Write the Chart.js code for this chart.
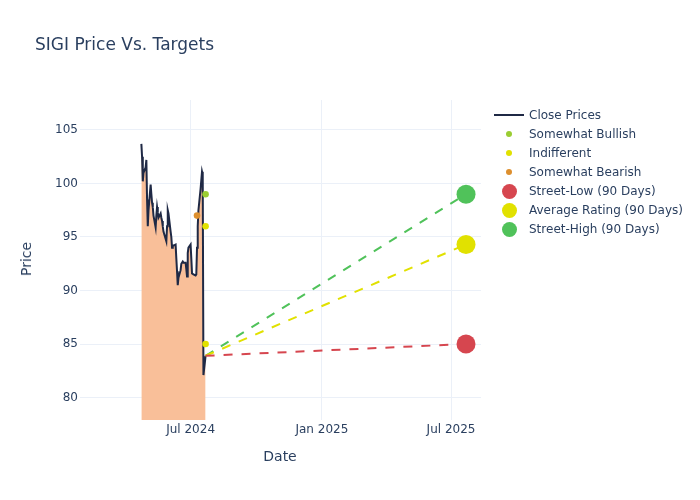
<!DOCTYPE html>
<html>
<head>
<meta charset="utf-8">
<script src="https://cdn.jsdelivr.net/npm/chart.js@4.4.1/dist/chart.umd.min.js"></script>
<style>
  html, body { margin: 0; padding: 0; background: #fff; }
  #wrap { position: relative; width: 700px; height: 500px; font-family: 'DejaVu Sans', sans-serif; color: #2a3f5f; }
  #chart { position: absolute; left: 0; top: 0; }
  .title { position: absolute; left: 35px; top: 36px; font-size: 17px; line-height: 17px; white-space: nowrap; }
  .ytitle { position: absolute; left: 26px; top: 259px; font-size: 14px; line-height: 14px; transform: translate(-50%, -50%) rotate(-90deg); white-space: nowrap; }
  .xtitle { position: absolute; left: 280px; top: 456px; font-size: 14px; line-height: 14px; transform: translate(-50%, -50%); white-space: nowrap; }
  #legend { position: absolute; left: 490px; top: 0; font-size: 12px; }
  .row { position: absolute; left: 0; height: 19px; line-height: 19px; white-space: nowrap; }
  .sym { position: absolute; }
  .lbl { position: absolute; left: 39px; top: 0; }
</style>
</head>
<body>
<div id="wrap">
  <canvas id="chart" width="700" height="500"></canvas>
  <div class="title">SIGI Price Vs. Targets</div>
  <div class="ytitle">Price</div>
  <div class="xtitle">Date</div>
  <div id="legend"></div>
</div>
<script>
// ── data ─────────────────────────────────────
const closeDates = [
  '2024-04-23','2024-04-24','2024-04-25','2024-04-26','2024-04-29','2024-04-30',
  '2024-05-01','2024-05-02','2024-05-03','2024-05-06','2024-05-07','2024-05-08','2024-05-09','2024-05-10',
  '2024-05-13','2024-05-14','2024-05-15','2024-05-16','2024-05-17',
  '2024-05-20','2024-05-21','2024-05-22','2024-05-23','2024-05-24',
  '2024-05-28','2024-05-29','2024-05-30','2024-05-31',
  '2024-06-03','2024-06-04','2024-06-05','2024-06-06','2024-06-07',
  '2024-06-10','2024-06-11','2024-06-12','2024-06-13','2024-06-14',
  '2024-06-17','2024-06-18','2024-06-20','2024-06-21',
  '2024-06-24','2024-06-25','2024-06-26','2024-06-27','2024-06-28',
  '2024-07-01','2024-07-02','2024-07-03','2024-07-05',
  '2024-07-08','2024-07-09','2024-07-10','2024-07-11','2024-07-12',
  '2024-07-15','2024-07-16','2024-07-17','2024-07-18','2024-07-19',
  '2024-07-22'
];
const closePrices = [
  103.7, 102.5, 100.2, 101.0, 101.5, 102.2,
  98.5, 96.0, 97.5, 99.9, 99.0, 98.2, 97.8, 97.0,
  95.9, 97.0, 97.8, 97.3, 96.8,
  97.2, 96.8, 96.5, 96.0, 95.5,
  94.6, 96.0, 97.5, 97.2,
  95.5, 95.0, 94.0, 94.2, 94.2,
  94.3, 93.0, 91.8, 90.5, 91.2,
  91.9, 92.5, 92.7, 92.6,
  92.6, 92.0, 91.3, 93.5, 94.0,
  94.3, 93.0, 91.6, 91.5,
  91.4, 91.5, 94.0, 96.0, 97.5,
  99.5, 100.3, 101.1, 100.8, 82.1,
  83.9
];

const bullishDates = ['2024-07-22'];
const bullishValues = [99.0];
const indifferentDates = ['2024-07-22', '2024-07-22'];
const indifferentValues = [96.0, 85.0];
const bearishDates = ['2024-07-10'];
const bearishValues = [97.0];

const targetDate = '2025-07-22';
const streetLow = 85.0;
const averageRating = 94.3;
const streetHigh = 99.0;

const xTickDates = ['2024-07-01', '2025-01-01', '2025-07-01'];
const xTickLabels = ['Jul 2024', 'Jan 2025', 'Jul 2025'];
const yTicks = [80, 85, 90, 95, 100, 105];
const xRange = ['2024-01-28', '2025-08-12'];
const yRange = [77.9, 107.8];

// ── helpers ──────────────────────────────────
const t = d => Date.parse(d);
const pts = (dates, vals) => dates.map((d, i) => ({ x: t(d), y: vals[i] }));

const C = {
    text: '#2a3f5f',
    grid: '#ebf0f8',
    close: '#1f2945',
    fill: '#f9bf99',
    bullish: '#9acd32',
    indiff: '#e1e100',
    bearish: '#dd8f2e',
    low: '#d6464f',
    avg: '#e1e100',
    high: '#50c25a',
};

const lastX = t(closeDates[closeDates.length - 1]);
const lastY = closePrices[closePrices.length - 1];

function targetLine(val, color, order) {
    return {
        type: 'line',
        data: [{ x: lastX, y: lastY }, { x: t(targetDate), y: val }],
        borderColor: color,
        borderWidth: 2,
        borderDash: [9, 9],
        pointRadius: 0,
        fill: false,
        order,
    };
}
function targetDot(val, color, order) {
    return {
        type: 'scatter',
        data: [{ x: t(targetDate), y: val }],
        backgroundColor: color,
        borderWidth: 0,
        pointRadius: 9.5,
        order,
    };
}
function ratingDots(dates, vals, color, order) {
    return {
        type: 'scatter',
        data: pts(dates, vals),
        backgroundColor: color,
        borderWidth: 0,
        pointRadius: 3.3,
        order,
    };
}

Chart.defaults.font.family = "'DejaVu Sans', sans-serif";
Chart.defaults.color = C.text;

new Chart(document.getElementById('chart'), {
    type: 'line',
    data: {
        datasets: [
            {
                label: 'Close Prices',
                data: pts(closeDates, closePrices),
                borderColor: C.close,
                borderWidth: 2,
                backgroundColor: C.fill,
                fill: 'start',
                pointRadius: 0,
                tension: 0,
                order: 10,
            },
            ratingDots(bullishDates, bullishValues, C.bullish, 5),
            ratingDots(indifferentDates, indifferentValues, C.indiff, 5),
            ratingDots(bearishDates, bearishValues, C.bearish, 5),
            targetLine(streetLow, C.low, 4),
            targetLine(averageRating, C.avg, 4),
            targetLine(streetHigh, C.high, 4),
            targetDot(streetLow, C.low, 1),
            targetDot(averageRating, C.avg, 1),
            targetDot(streetHigh, C.high, 1),
        ]
    },
    options: {
        responsive: false,
        animation: false,
        layout: { padding: { left: 0, right: 219, top: 100, bottom: 0 } },
        plugins: { legend: { display: false }, tooltip: { enabled: false } },
        scales: {
            x: {
                type: 'linear',
                min: t(xRange[0]),
                max: t(xRange[1]),
                afterBuildTicks: s => { s.ticks = xTickDates.map(d => ({ value: t(d) })); },
                afterFit: s => { s.height = 80; },
                ticks: {
                    autoSkip: false,
                    maxRotation: 0,
                    padding: 3,
                    font: { size: 12 },
                    color: C.text,
                    callback: v => xTickLabels[xTickDates.map(t).indexOf(v)],
                },
                grid: { color: C.grid, drawTicks: false },
                border: { display: false },
            },
            y: {
                min: yRange[0],
                max: yRange[1],
                afterBuildTicks: s => { s.ticks = yTicks.map(v => ({ value: v })); },
                afterFit: s => { s.width = 80; },
                ticks: { padding: 2, font: { size: 12 }, color: C.text },
                grid: { color: C.grid, drawTicks: false },
                border: { display: false },
            }
        }
    }
});

// ── legend ───────────────────────────────────
const legendItems = [
    { label: 'Close Prices', kind: 'line', color: C.close },
    { label: 'Somewhat Bullish', kind: 'dot', r: 3, color: C.bullish },
    { label: 'Indifferent', kind: 'dot', r: 3, color: C.indiff },
    { label: 'Somewhat Bearish', kind: 'dot', r: 3, color: C.bearish },
    { label: 'Street-Low (90 Days)', kind: 'dot', r: 7.5, color: C.low },
    { label: 'Average Rating (90 Days)', kind: 'dot', r: 7.5, color: C.avg },
    { label: 'Street-High (90 Days)', kind: 'dot', r: 7.5, color: C.high },
];
const legend = document.getElementById('legend');
legendItems.forEach((it, i) => {
    const cy = 115 + i * 19;
    const row = document.createElement('div');
    row.className = 'row';
    row.style.top = (cy - 9) + 'px';
    const sym = document.createElement('div');
    sym.className = 'sym';
    if (it.kind === 'line') {
        sym.style.cssText = `left:4px;top:8px;width:30px;height:2px;background:${it.color}`;
    } else {
        const d = it.r * 2;
        sym.style.cssText = `left:${19 - it.r}px;top:${9 - it.r}px;width:${d}px;height:${d}px;border-radius:50%;background:${it.color}`;
    }
    const lbl = document.createElement('span');
    lbl.className = 'lbl';
    lbl.textContent = it.label;
    row.appendChild(sym);
    row.appendChild(lbl);
    legend.appendChild(row);
});
</script>
</body>
</html>
